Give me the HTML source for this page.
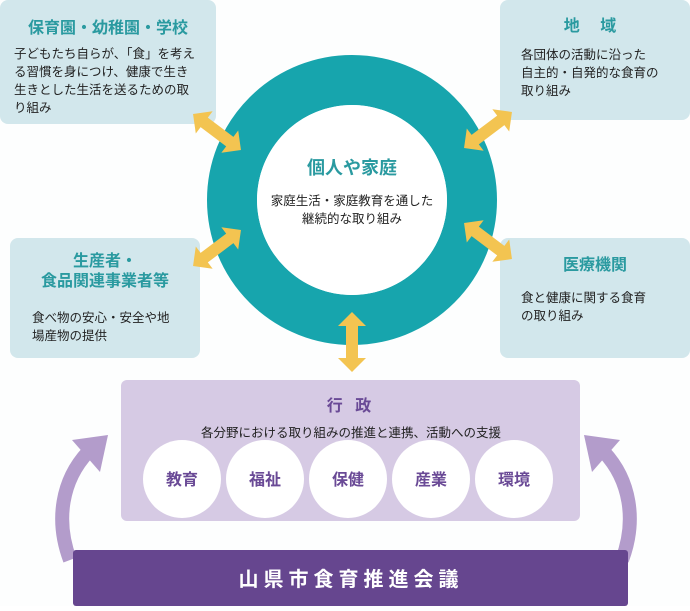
<!DOCTYPE html>
<html><head><meta charset="utf-8"><style>
body{margin:0;background:#fff;}
svg text{font-family:"Liberation Sans","Noto Sans CJK JP",sans-serif;}
</style></head><body>
<svg width="690" height="606" viewBox="0 0 690 606" xmlns="http://www.w3.org/2000/svg">
<defs>
<g id="dbl"><polygon points="-30,0 -16,-14 -16,-6 16,-6 16,-14 30,0 16,14 16,6 -16,6 -16,14" fill="#f3c451"/></g>
</defs>
<rect width="690" height="606" fill="#fdfefe"/>
<!-- boxes -->
<rect x="0" y="0" width="216" height="124" rx="8" fill="#d2e7ec"/>
<rect x="500" y="0" width="190" height="120" rx="8" fill="#d2e7ec"/>
<rect x="10" y="238" width="190" height="120" rx="8" fill="#d2e7ec"/>
<rect x="500" y="238" width="190" height="120" rx="8" fill="#d2e7ec"/>
<!-- ring -->
<circle cx="352" cy="200" r="120" fill="none" stroke="#17a5ad" stroke-width="50"/>
<circle cx="352" cy="200" r="95" fill="#fff"/>
<!-- arrows -->
<use href="#dbl" transform="translate(217,132) rotate(37)"/>
<use href="#dbl" transform="translate(217,248) rotate(-37)"/>
<use href="#dbl" transform="translate(488,130) rotate(-37)"/>
<use href="#dbl" transform="translate(488,241) rotate(37)"/>
<use href="#dbl" transform="translate(352,342) rotate(90)"/>
<!-- purple curved arrows -->
<path d="M70,560 C55,520 62,480 88,452" fill="none" stroke="#b39ccb" stroke-width="14"/>
<polygon points="72,440 108,435 100,472" fill="#b39ccb"/>
<path d="M622,560 C637,520 630,480 604,452" fill="none" stroke="#b39ccb" stroke-width="14"/>
<polygon points="620,440 584,435 592,472" fill="#b39ccb"/>
<!-- gov -->
<rect x="121" y="380" width="459" height="141" rx="6" fill="#d6cae4"/>
<text x="351" y="411" font-size="16" font-weight="bold" fill="#6a4a96" text-anchor="middle" letter-spacing="4">行 政</text>
<text x="351" y="437" font-size="12.5" fill="#222" text-anchor="middle">各分野における取り組みの推進と連携、活動への支援</text>
<g font-size="16" font-weight="bold" fill="#6a4a96" text-anchor="middle">
<circle cx="182" cy="479" r="39" fill="#fff"/><text x="182" y="485">教育</text>
<circle cx="265" cy="479" r="39" fill="#fff"/><text x="265" y="485">福祉</text>
<circle cx="348" cy="479" r="39" fill="#fff"/><text x="348" y="485">保健</text>
<circle cx="431" cy="479" r="39" fill="#fff"/><text x="431" y="485">産業</text>
<circle cx="514" cy="479" r="39" fill="#fff"/><text x="514" y="485">環境</text>
</g>
<rect x="73" y="550" width="555" height="56" rx="3" fill="#66468f"/>
<text x="351" y="586" font-size="20" font-weight="bold" fill="#fff" text-anchor="middle" letter-spacing="5">山県市食育推進会議</text>
<!-- titles -->
<g font-weight="bold" fill="#2a9aa0" text-anchor="middle">
<text x="108" y="33" font-size="16">保育園・幼稚園・学校</text>
<text x="594" y="31" font-size="16" letter-spacing="8">地 域</text>
<text x="105" y="266" font-size="16">生産者・</text>
<text x="105" y="286" font-size="16">食品関連事業者等</text>
<text x="595" y="270" font-size="16">医療機関</text>
<text x="352" y="174" font-size="18">個人や家庭</text>
</g>
<g font-size="12.5" fill="#222">
<text x="14" y="58">子どもたち自らが、「食」を考え</text>
<text x="14" y="76">る習慣を身につけ、健康で生き</text>
<text x="14" y="94">生きとした生活を送るための取</text>
<text x="14" y="112">り組み</text>
<text x="521" y="59">各団体の活動に沿った</text>
<text x="521" y="77">自主的・自発的な食育の</text>
<text x="521" y="95">取り組み</text>
<text x="32" y="322">食べ物の安心・安全や地</text>
<text x="32" y="340">場産物の提供</text>
<text x="521" y="302">食と健康に関する食育</text>
<text x="521" y="320">の取り組み</text>
<text x="352" y="205" text-anchor="middle">家庭生活・家庭教育を通した</text>
<text x="352" y="223" text-anchor="middle">継続的な取り組み</text>
</g>
</svg>
</body></html>
